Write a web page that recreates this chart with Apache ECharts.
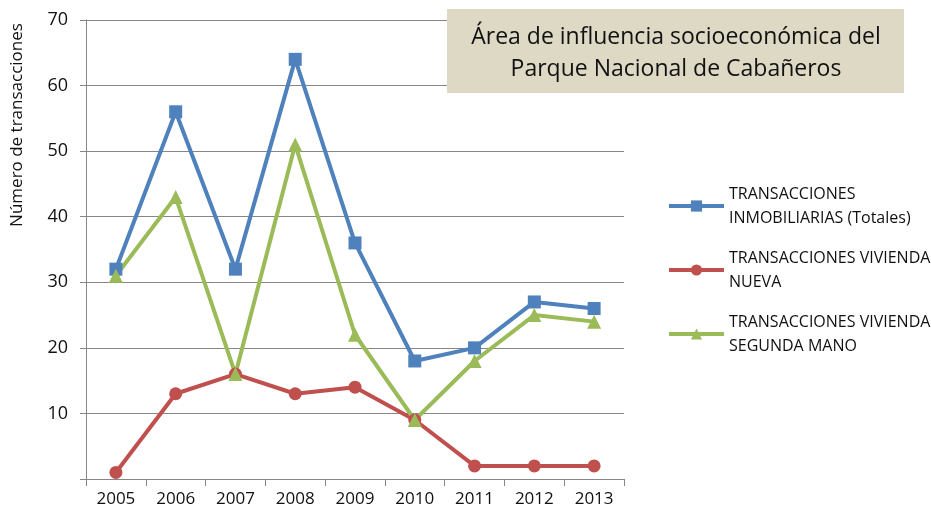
<!DOCTYPE html>
<html>
<head>
<meta charset="utf-8">
<script src="https://cdn.jsdelivr.net/npm/echarts@6/dist/echarts.min.js"></script>
<style>
  html, body { margin: 0; padding: 0; background: #fff; }
  #chart { width: 931px; height: 515px; }
</style>
</head>
<body>
<div id="chart"></div>
<script>
// datos
const years = ['2005', '2006', '2007', '2008', '2009', '2010', '2011', '2012', '2013'];
const totales = [32, 56, 32, 64, 36, 18, 20, 27, 26];
const nueva = [1, 13, 16, 13, 14, 9, 2, 2, 2];
const segunda = [31, 43, 16, 51, 22, 9, 18, 25, 24];
const seriesNames = [
  'TRANSACCIONES\nINMOBILIARIAS (Totales)',
  'TRANSACCIONES VIVIENDA\nNUEVA',
  'TRANSACCIONES VIVIENDA\nSEGUNDA MANO'
];

const font = 'Open Sans, Noto Sans, sans-serif';
const chart = echarts.init(document.getElementById('chart'));

const option = {
  animation: false,
  color: ['#4F81BD', '#C0504D', '#9BBB59'],
  textStyle: { fontFamily: font },
  grid: { left: 86, right: 307, top: 20, bottom: 36, containLabel: false },
  graphic: [
    {
      type: 'rect',
      shape: { x: 447, y: 9, width: 457, height: 84 },
      style: { fill: '#DDD9C4' },
      z: 10
    },
    {
      type: 'text',
      x: 676, y: 53,
      style: {
        text: 'Área de influencia socioeconómica del\nParque Nacional de Cabañeros',
        font: '23px ' + font,
        fill: '#111',
        align: 'center',
        verticalAlign: 'middle',
        lineHeight: 32
      },
      z: 11
    },
    {
      type: 'text',
      x: 17, y: 125,
      rotation: Math.PI / 2,
      style: {
        text: 'Número de transacciones',
        font: '17px ' + font,
        fill: '#111',
        align: 'center',
        verticalAlign: 'middle'
      }
    }
  ],
  legend: {
    orient: 'vertical',
    left: 662,
    top: 165,
    itemWidth: 55,
    itemHeight: 14,
    itemGap: -8,
    data: seriesNames,
    lineStyle: { width: 4 },
    textStyle: {
      fontSize: 16,
      color: '#111',
      lineHeight: 24,
      padding: [24, 0, 0, 0]
    }
  },
  xAxis: {
    type: 'category',
    data: years,
    boundaryGap: true,
    axisLine: { lineStyle: { color: '#868686' } },
    axisTick: { show: true, length: 7, lineStyle: { color: '#868686' } },
    axisLabel: { fontSize: 17, color: '#111', margin: 12 }
  },
  yAxis: {
    type: 'value',
    min: 0,
    max: 70,
    interval: 10,
    axisLine: { show: true, lineStyle: { color: '#868686' } },
    axisTick: { show: true, length: 6, lineStyle: { color: '#868686' } },
    axisLabel: {
      fontSize: 18, color: '#111', margin: 18,
      formatter: v => (v === 0 ? '' : v)
    },
    splitLine: { lineStyle: { color: '#868686', width: 1 } }
  },
  series: [
    {
      name: seriesNames[0],
      type: 'line',
      data: totales,
      symbol: 'rect',
      symbolSize: 13,
      lineStyle: { width: 4 }
    },
    {
      name: seriesNames[1],
      type: 'line',
      data: nueva,
      symbol: 'circle',
      symbolSize: 13,
      lineStyle: { width: 4 }
    },
    {
      name: seriesNames[2],
      type: 'line',
      data: segunda,
      symbol: 'triangle',
      symbolSize: 14,
      lineStyle: { width: 4 }
    }
  ]
};

chart.setOption(option);
</script>
</body>
</html>
